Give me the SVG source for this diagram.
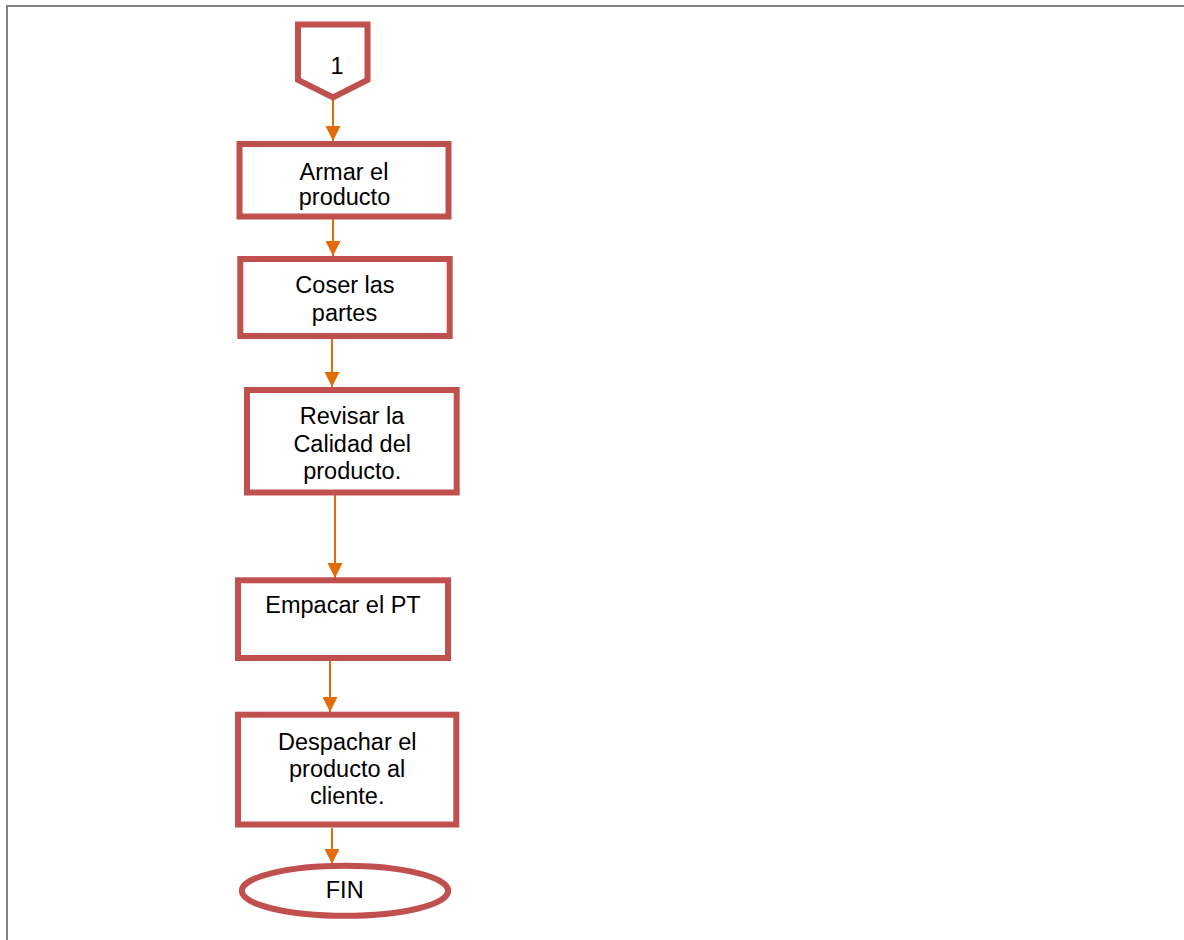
<svg xmlns="http://www.w3.org/2000/svg" width="1184" height="940" viewBox="0 0 1184 940">
<style>
.frame{fill:none;stroke:#808080;stroke-width:2}
.node{fill:#FFFFFF;stroke:#C0504D;stroke-width:6}
.lbl{font-family:"Liberation Sans",Arial,sans-serif;font-size:23.5px;fill:#000000;text-anchor:middle}
.conn{fill:none;stroke:#E36C09;stroke-width:2}
</style>
<defs>
<marker id="ah" markerWidth="15" markerHeight="15" refX="15" refY="7.5" orient="auto" markerUnits="userSpaceOnUse">
<path d="M0,0 L15,7.5 L0,15 Z" fill="#E36C09"/>
</marker>
</defs>
<rect width="1184" height="940" fill="#FFFFFF"/>
<path class="frame" d="M7,945 L7,6 L1190,6"/>
<g id="connectors">
<line class="conn" x1="333" y1="100" x2="333" y2="141" marker-end="url(#ah)"/>
<line class="conn" x1="333" y1="219" x2="333" y2="256" marker-end="url(#ah)"/>
<line class="conn" x1="332" y1="339" x2="332" y2="387" marker-end="url(#ah)"/>
<line class="conn" x1="335" y1="495" x2="335" y2="578" marker-end="url(#ah)"/>
<line class="conn" x1="330" y1="661" x2="330" y2="712" marker-end="url(#ah)"/>
<line class="conn" x1="332" y1="828" x2="332" y2="864" marker-end="url(#ah)"/>
</g>
<g id="node-1">
<path class="node" d="M298,24.5 L367.5,24.5 L367.5,80 L333,97.5 L298,80 Z" stroke-width="6.5"/>
<text class="lbl" x="337" y="73.5" font-size="22">1</text>
</g>
<g id="node-armar">
<rect class="node" x="239.5" y="144" width="209" height="72.5"/>
<text class="lbl" x="344" y="180">Armar el</text>
<text class="lbl" x="344.5" y="205">producto</text>
</g>
<g id="node-coser">
<rect class="node" x="240.3" y="259" width="209.4" height="77"/>
<text class="lbl" x="345" y="293.3">Coser las</text>
<text class="lbl" x="344.5" y="321">partes</text>
</g>
<g id="node-revisar">
<rect class="node" x="247" y="390" width="209.7" height="102.5"/>
<text class="lbl" x="352" y="424">Revisar la</text>
<text class="lbl" x="352.2" y="452">Calidad del</text>
<text class="lbl" x="352.2" y="479">producto.</text>
</g>
<g id="node-empacar">
<rect class="node" x="238" y="580.3" width="210" height="77.7"/>
<text class="lbl" x="343" y="613.3">Empacar el PT</text>
</g>
<g id="node-despachar">
<rect class="node" x="238" y="714.7" width="218.3" height="109.8"/>
<text class="lbl" x="347.3" y="750">Despachar el</text>
<text class="lbl" x="347.2" y="776.7">producto al</text>
<text class="lbl" x="347.2" y="804.3">cliente.</text>
</g>
<g id="node-fin">
<ellipse class="node" cx="345" cy="890.8" rx="103.2" ry="25" stroke-width="5"/>
<text class="lbl" x="344.7" y="897.7">FIN</text>
</g>
</svg>
